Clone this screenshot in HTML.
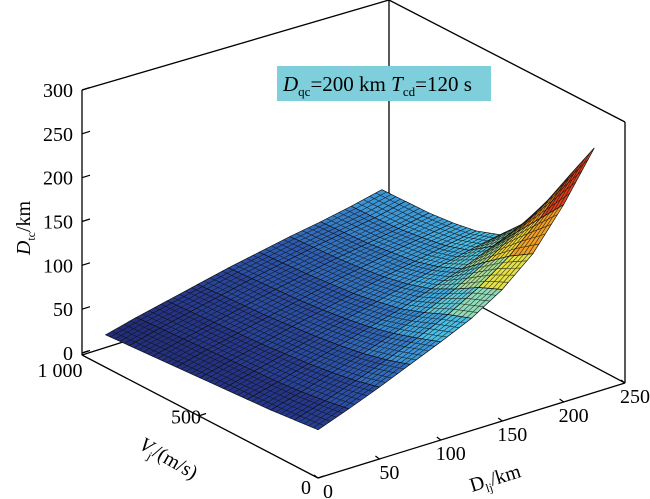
<!DOCTYPE html>
<html><head><meta charset="utf-8"><style>
body{margin:0;background:#fff}
svg{display:block;font-family:"Liberation Serif",serif}
</style></head><body>
<svg id="chart" width="650" height="499" viewBox="0 0 650 499">
<g id="box" stroke="#000" stroke-width="1.3" fill="none">
<line x1="82" y1="90" x2="389" y2="0"/>
<line x1="389" y1="0" x2="625" y2="122"/>
<line x1="389" y1="0" x2="389" y2="258"/>
<line x1="625" y1="122" x2="625" y2="383"/>
<line x1="82" y1="90" x2="82" y2="355"/>
<line x1="82" y1="355" x2="389" y2="258"/>
<line x1="389" y1="258" x2="625" y2="383"/>
<line x1="82" y1="355" x2="318" y2="478"/>
<line x1="318" y1="478" x2="625" y2="383"/>
</g>
<g id="surface"></g>
<g id="ticks"></g>
<g>
<rect x="277" y="66" width="214" height="35" fill="#7ecfdb"/>
<text x="283" y="91" font-size="21"><tspan font-style="italic">D</tspan><tspan font-size="13" dy="5">qc</tspan><tspan dy="-5">=200 km </tspan><tspan font-style="italic">T</tspan><tspan font-size="13" dy="5">cd</tspan><tspan dy="-5">=120 s</tspan></text>
</g>
<text transform="translate(30,228) rotate(-90)" text-anchor="middle" font-size="20"><tspan font-style="italic">D</tspan><tspan font-size="12" dy="5">tc</tspan><tspan dy="-5">/km</tspan></text>
<text transform="translate(138,448) rotate(30)" font-size="20"><tspan font-style="italic">V</tspan><tspan font-size="12" dy="5">j</tspan><tspan dy="-5">/(m/s)</tspan></text>
<text transform="translate(472,492) rotate(-17)" font-size="20"><tspan>D</tspan><tspan font-size="12" dy="5">lj</tspan><tspan dy="-5">/km</tspan></text>
</svg>
<script>
const dVals=[0,25,50,75,100,125,150,175,200,225];
const vVals=[0,100,200,300,400,500,600,700,800,900];
const zRows=[
[55,68,82,97,112,128,150,180,225,279],
[52,63,75,88,102,118,138,163,195,235],
[49,59,70,81,93,106,122,142,165,190],
[47,56,66,76,86,96,108,120,135,150],
[45,54,63,72,81,90,99,108,116,123],
[43,52,60,69,77,85,93,100,107,113],
[41,50,58,66,74,82,89,96,102,108],
[39,48,56,64,72,79,86,92,98,105],
[37,46,54,62,70,77,84,90,96,104],
[35,44,52,60,68,75,82,88,95,103]];
const zTicks=[0,50,100,150,200,250,300];
const vTicks=[0,500,1000];
const vTickLabels=["0","500","1 000"];
const dTicks=[0,50,100,150,200,250];

const NS="http://www.w3.org/2000/svg";
const O=[318,478];
function P(d,v,z){return [O[0]+d/250*307-v/1000*236, O[1]-d/250*95-v/1000*125-z/300*263];}
function cmap(z){
 const stops=[[30,[32,40,110]],[55,[38,55,140]],[80,[45,90,175]],[100,[60,150,215]],[115,[75,190,230]],[135,[150,220,180]],[160,[235,225,60]],[200,[240,140,30]],[250,[210,30,25]],[290,[160,10,10]]];
 if(z<=stops[0][0])return 'rgb('+stops[0][1].join(',')+')';
 for(let i=1;i<stops.length;i++){if(z<=stops[i][0]){const a=stops[i-1],b=stops[i],f=(z-a[0])/(b[0]-a[0]);
  return 'rgb('+a[1].map((c,k)=>Math.round(c+(b[1][k]-c)*f)).join(',')+')';}}
 return 'rgb(160,10,10)';}
const surf=document.getElementById('surface');
const cells=[];
for(let i=0;i<vVals.length-1;i++)for(let j=0;j<dVals.length-1;j++){
 const c=[[i,j],[i,j+1],[i+1,j+1],[i+1,j]];
 const pts=c.map(([a,b])=>P(dVals[b],vVals[a],zRows[a][b]));
 const zAvg=c.reduce((s,[a,b])=>s+zRows[a][b],0)/4;
 const depth=(vVals[i]+vVals[i+1])/2/1000+(dVals[j]+dVals[j+1])/2/250;
 cells.push({pts,zAvg,depth});}
cells.sort((a,b)=>b.depth-a.depth);
function lerp(p,q,t){return [p[0]+(q[0]-p[0])*t,p[1]+(q[1]-p[1])*t];}
cells.forEach(c=>{
 const g=document.createElementNS(NS,'g');
 
 
 const poly=document.createElementNS(NS,'polygon');
 poly.setAttribute('points',c.pts.map(p=>p.join(',')).join(' '));
 poly.setAttribute('fill',cmap(c.zAvg));
 poly.setAttribute('stroke','#111');poly.setAttribute('stroke-width','0.7');
 g.appendChild(poly);
 const [p0,p1,p2,p3]=c.pts;let d='';
 for(let k=1;k<5;k++){const t=k/5;
  let a=lerp(p0,p1,t),b=lerp(p3,p2,t);d+='M'+a+'L'+b;
  a=lerp(p0,p3,t);b=lerp(p1,p2,t);d+='M'+a+'L'+b;}
 const path=document.createElementNS(NS,'path');
 path.setAttribute('d',d);path.setAttribute('stroke','#111');path.setAttribute('stroke-width','0.6');path.setAttribute('stroke-opacity','0.85');
 g.appendChild(path);
 surf.appendChild(g);});
const tk=document.getElementById('ticks');
function line(a,b){const l=document.createElementNS(NS,'line');
 l.setAttribute('x1',a[0]);l.setAttribute('y1',a[1]);l.setAttribute('x2',b[0]);l.setAttribute('y2',b[1]);
 l.setAttribute('stroke','#000');l.setAttribute('stroke-width','1.2');tk.appendChild(l);}
function label(x,y,s,anchor,name){const t=document.createElementNS(NS,'text');
 t.setAttribute('x',x);t.setAttribute('y',y);t.setAttribute('font-size','20');t.setAttribute('text-anchor',anchor);
 
 
 t.textContent=s;tk.appendChild(t);}
zTicks.forEach(z=>{const p=P(0,1000,z);line([82,p[1]],[90,p[1]-2.5]);label(73,p[1]+7,String(z),'end','z-tick-label');});
vTicks.forEach((v,i)=>{const p=P(0,v,0);line(p,[p[0]+6,p[1]-2]);
 const off=[[-12,16],[-14,8],[-22,24]][i];label(p[0]+off[0],p[1]+off[1],vTickLabels[i],'middle','v-tick-label');});
dTicks.forEach(d=>{const p=P(d,0,0);line(p,[p[0]-4,p[1]-3]);label(p[0]+10,p[1]+20,String(d),'middle','d-tick-label');});
</script>
</body></html>
